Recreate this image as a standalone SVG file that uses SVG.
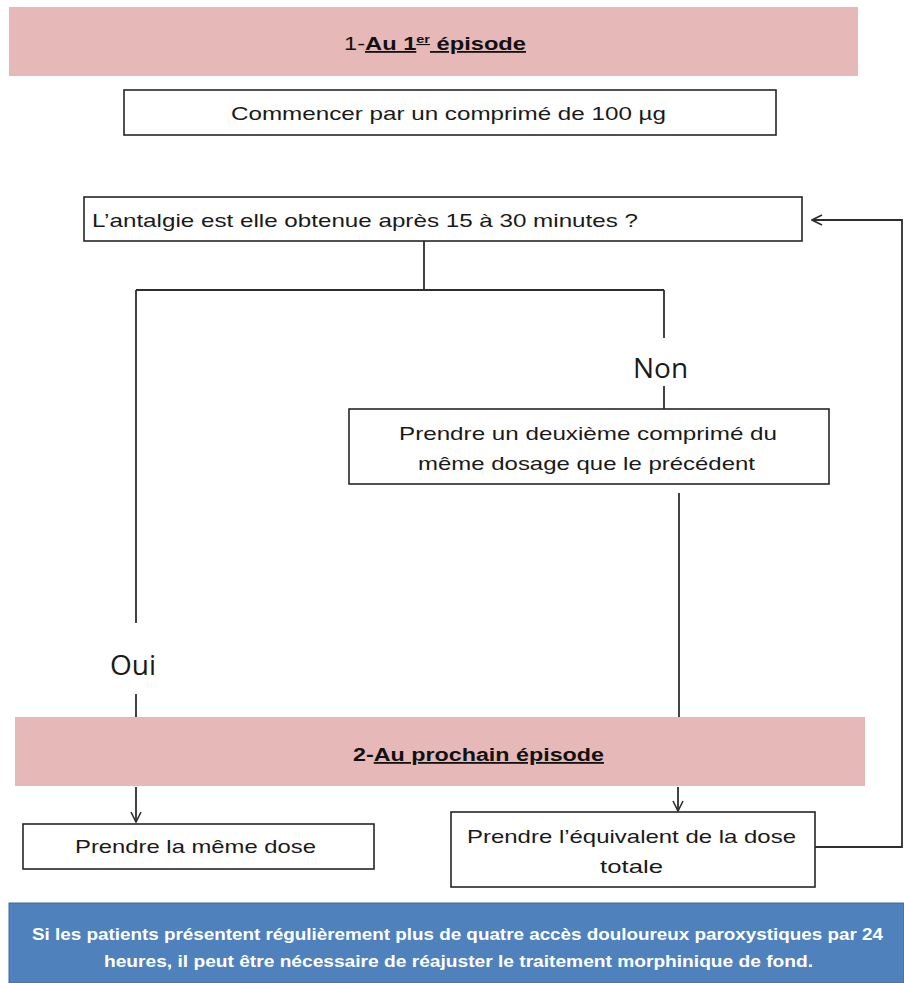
<svg xmlns="http://www.w3.org/2000/svg" width="904" height="983" viewBox="0 0 904 983">
<style>
.bg{fill:#ffffff}
.banner{fill:#e6b9b8}
.box{fill:#ffffff;stroke:#262626;stroke-width:1.6}
.note{fill:#4f81bd;stroke:#41699a;stroke-width:1}
.t{font-family:"Liberation Sans Narrow","Liberation Sans",Arial,sans-serif;font-size:19px;fill:#1a1a1a}
.h{font-family:"Liberation Sans Narrow","Liberation Sans",Arial,sans-serif;font-size:18px;fill:#111111}
.b{font-weight:bold}
.u{text-decoration:underline}
.lbl{font-family:"Open Sans","DejaVu Sans",sans-serif;font-size:28px;fill:#1a1a1a}
.w{font-family:"Liberation Sans Narrow","Liberation Sans",Arial,sans-serif;font-size:17px;font-weight:bold;fill:#ffffff}
.ln{fill:none;stroke:#2e2e2e;stroke-width:1.8}
</style>
<defs>
<marker id="arr" viewBox="0 0 12 12" refX="11" refY="6" markerWidth="12" markerHeight="12" markerUnits="userSpaceOnUse" orient="auto">
<path d="M1,1 L11,6 L1,11" fill="none" stroke="#2e2e2e" stroke-width="1.6"/>
</marker>
</defs>
<rect class="bg" x="0" y="0" width="904" height="983"/>

<g id="banner1">
<rect class="banner" x="9" y="7" width="849" height="69"/>
<text class="h" x="344" y="50" textLength="182" lengthAdjust="spacingAndGlyphs">1-<tspan class="b u">Au 1<tspan font-size="11" dy="-7">er</tspan><tspan dy="7"> épisode</tspan></tspan></text>
</g>

<g id="start">
<rect class="box" x="124" y="90" width="652" height="45"/>
<text class="t" x="231" y="120" textLength="435" lengthAdjust="spacingAndGlyphs">Commencer par un comprimé de 100 µg</text>
</g>

<g id="question">
<rect class="box" x="84" y="197" width="718" height="44"/>
<text class="t" x="92" y="227" textLength="546" lengthAdjust="spacingAndGlyphs">L’antalgie est elle obtenue après 15 à 30 minutes ?</text>
</g>

<g id="second">
<rect class="box" x="349" y="409" width="480" height="75"/>
<text class="t" x="399" y="440" textLength="378" lengthAdjust="spacingAndGlyphs">Prendre un deuxième comprimé du</text>
<text class="t" x="418" y="470" textLength="337" lengthAdjust="spacingAndGlyphs">même dosage que le précédent</text>
</g>

<g id="banner2">
<rect class="banner" x="15" y="717" width="850" height="69"/>
<text class="h b" x="353" y="761" textLength="251" lengthAdjust="spacingAndGlyphs">2-<tspan class="u">Au prochain épisode</tspan></text>
</g>

<g id="same">
<rect class="box" x="23" y="824" width="351" height="45"/>
<text class="t" x="75" y="853" textLength="241" lengthAdjust="spacingAndGlyphs">Prendre la même dose</text>
</g>

<g id="total">
<rect class="box" x="451" y="812" width="364" height="75"/>
<text class="t" x="467" y="843" textLength="329" lengthAdjust="spacingAndGlyphs">Prendre l’équivalent de la dose</text>
<text class="t" x="600" y="873" textLength="63" lengthAdjust="spacingAndGlyphs">totale</text>
</g>

<g id="note">
<rect class="note" x="9" y="903" width="895" height="80"/>
<text class="w" x="32" y="940" textLength="851" lengthAdjust="spacingAndGlyphs">Si les patients présentent régulièrement plus de quatre  accès douloureux paroxystiques par 24</text>
<text class="w" x="104" y="967" textLength="709" lengthAdjust="spacingAndGlyphs">heures, il peut être nécessaire de réajuster le traitement  morphinique de fond.</text>
</g>

<g id="labels">
<text class="lbl" x="110" y="675">Oui</text>
<text class="lbl" x="633" y="378">Non</text>
</g>

<g id="connectors">
<path class="ln" d="M424,241 V290"/>
<path class="ln" d="M136,290 H664"/>
<path class="ln" d="M136,290 V623"/>
<path class="ln" d="M136,694 V717"/>
<path class="ln" d="M664,290 V338"/>
<path class="ln" d="M664,386 V409"/>
<path class="ln" d="M679,493 V717"/>
<path class="ln" d="M136,787 V822" marker-end="url(#arr)"/>
<path class="ln" d="M678,787 V811" marker-end="url(#arr)"/>
<path class="ln" d="M815,847 H902 V220 H812" marker-end="url(#arr)"/>
</g>
</svg>
